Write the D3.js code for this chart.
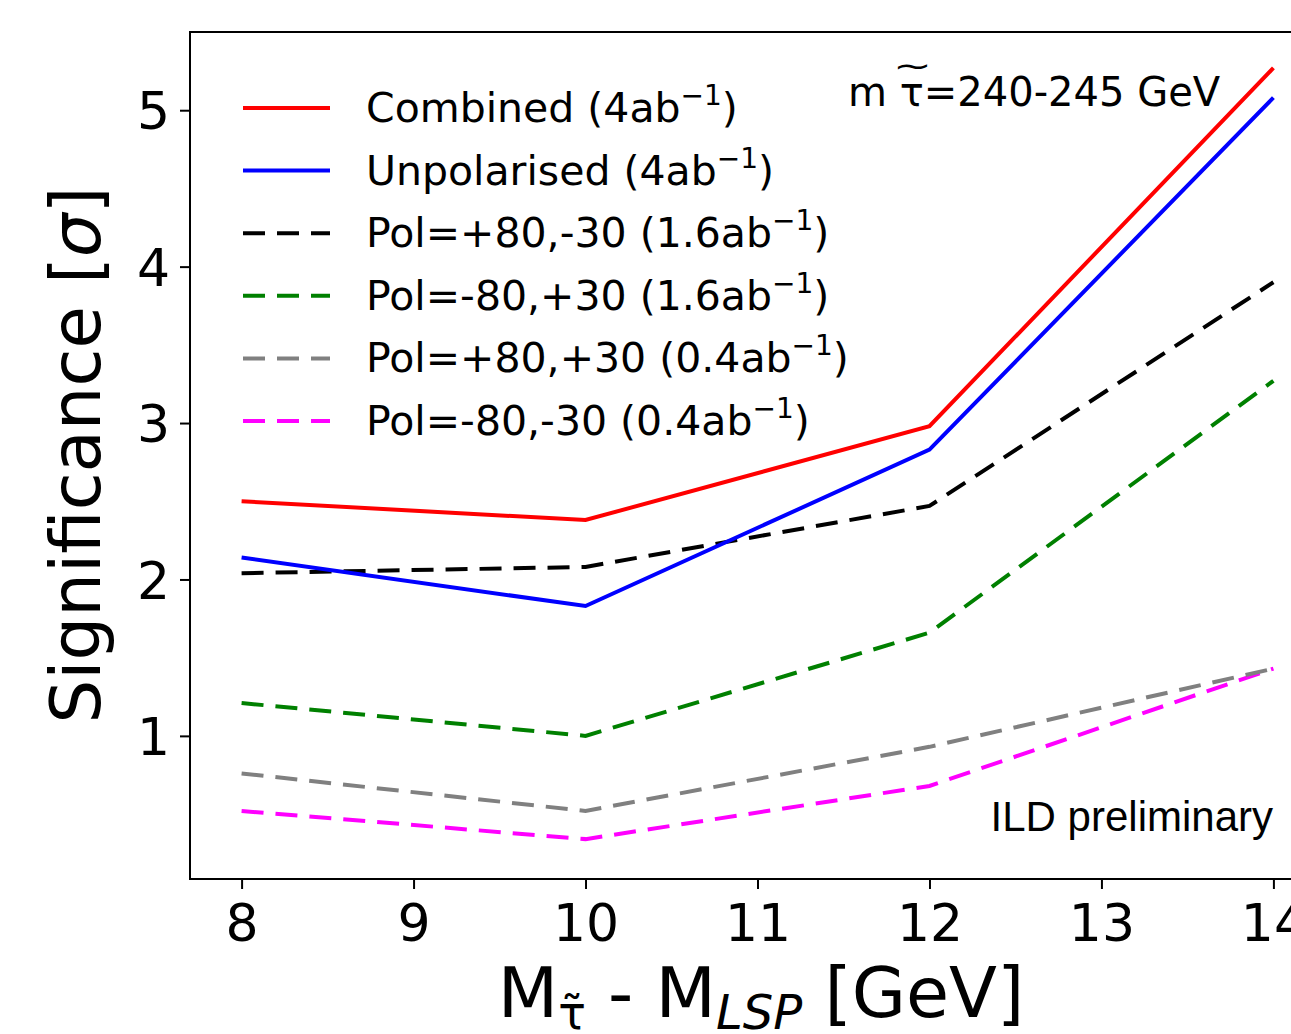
<!DOCTYPE html>
<html>
<head>
<meta charset="utf-8">
<script src="https://cdn.jsdelivr.net/npm/d3@7"></script>
<style>
  body { margin: 0; background: #fff; }
  text { font-family: "DejaVu Sans", sans-serif; fill: #000; }
</style>
</head>
<body>
<script>
const xValues = [8, 10, 12, 14];
const combined = [2.50, 2.38, 2.98, 5.27];
const unpolarised = [2.14, 1.83, 2.83, 5.08];
const polPlusMinus = [2.04, 2.08, 2.47, 3.90];
const polMinusPlus = [1.21, 1.00, 1.66, 3.27];
const polPlusPlus = [0.76, 0.52, 0.93, 1.43];
const polMinusMinus = [0.52, 0.34, 0.68, 1.43];
const xTicks = [8, 9, 10, 11, 12, 13, 14];
const yTicks = [1, 2, 3, 4, 5];

const series = [
    { name: "Combined (4ab", values: combined, color: "#ff0000", dashed: false },
    { name: "Unpolarised (4ab", values: unpolarised, color: "#0000ff", dashed: false },
    { name: "Pol=+80,-30 (1.6ab", values: polPlusMinus, color: "#000000", dashed: true },
    { name: "Pol=-80,+30 (1.6ab", values: polMinusPlus, color: "#008000", dashed: true },
    { name: "Pol=+80,+30 (0.4ab", values: polPlusPlus, color: "#808080", dashed: true },
    { name: "Pol=-80,-30 (0.4ab", values: polMinusMinus, color: "#ff00ff", dashed: true },
];

const width = 1291, height = 1034;
const margin = { top: 32, right: -34, bottom: 155, left: 190 };
const innerW = width - margin.left - margin.right;
const innerH = height - margin.top - margin.bottom;

const svg = d3.select("body").append("svg")
    .attr("width", width)
    .attr("height", height);

const x = d3.scaleLinear().domain([7.7, 14.3]).range([margin.left, width - margin.right]);
const y = d3.scaleLinear().domain([0.085, 5.5]).range([height - margin.bottom, margin.top]);

// clip for plot region
svg.append("clipPath").attr("id", "clip")
    .append("rect")
    .attr("x", margin.left).attr("y", margin.top)
    .attr("width", innerW).attr("height", innerH);

const line = d3.line()
    .x((d, i) => x(xValues[i]))
    .y(d => y(d));

svg.append("g").attr("clip-path", "url(#clip)")
    .selectAll("path")
    .data(series.slice().reverse())
    .enter()
    .append("path")
    .attr("d", d => line(d.values))
    .attr("fill", "none")
    .attr("stroke", d => d.color)
    .attr("stroke-width", 4)
    .attr("stroke-dasharray", d => d.dashed ? "22,12" : null);

// frame
svg.append("rect")
    .attr("x", margin.left).attr("y", margin.top)
    .attr("width", innerW).attr("height", innerH)
    .attr("fill", "none").attr("stroke", "#000").attr("stroke-width", 2);

// axes
const xAxis = svg.append("g")
    .attr("transform", `translate(0,${height - margin.bottom})`)
    .call(d3.axisBottom(x).tickValues(xTicks).tickSize(10).tickPadding(15).tickFormat(d3.format("d")));
const yAxis = svg.append("g")
    .attr("transform", `translate(${margin.left},0)`)
    .call(d3.axisLeft(y).tickValues(yTicks).tickSize(10).tickPadding(10).tickFormat(d3.format("d")));

[xAxis, yAxis].forEach(a => {
    a.select(".domain").remove();
    a.selectAll(".tick line").attr("stroke", "#000").attr("stroke-width", 2);
    a.selectAll(".tick text")
        .attr("font-family", "DejaVu Sans")
        .attr("font-size", "52px")
        .attr("fill", "#000");
});
yAxis.selectAll(".tick text").attr("dy", "0.36em");

// axis labels
const xl = svg.append("text")
    .attr("x", 761).attr("y", 1017)
    .attr("text-anchor", "middle")
    .attr("font-size", "70px");
xl.append("tspan").text("M");
xl.append("tspan").attr("font-size", "46px").attr("dy", "12").text("τ̃");
xl.append("tspan").attr("dy", "-12").text(" - M");
xl.append("tspan").attr("font-size", "48px").attr("font-style", "italic").attr("dy", "12").text("LSP");
xl.append("tspan").attr("dy", "-12").text(" [GeV]");

const yl = svg.append("text")
    .attr("transform", "translate(100,455) rotate(-90)")
    .attr("text-anchor", "middle")
    .attr("font-size", "69px");
yl.append("tspan").text("Significance [");
yl.append("tspan").attr("font-style", "italic").text("σ");
yl.append("tspan").text("]");

// legend
const legend = svg.append("g");
const rows = legend.selectAll("g")
    .data(series)
    .enter()
    .append("g")
    .attr("transform", (d, i) => `translate(0,${108 + i * 62.6})`);

rows.append("line")
    .attr("x1", 243).attr("x2", 330)
    .attr("y1", 0).attr("y2", 0)
    .attr("stroke", d => d.color)
    .attr("stroke-width", 4)
    .attr("stroke-dasharray", d => d.dashed ? "22,12" : null);

const lt = rows.append("text")
    .attr("x", 366).attr("y", 14)
    .attr("font-size", "41px")
    .attr("fill", "#222");
lt.append("tspan").text(d => d.name);
lt.append("tspan").attr("font-size", "28px").attr("dy", "-17").text("−1");
lt.append("tspan").attr("dy", "17").text(")");

// annotations: m with wide tilde over tau
const ann = svg.append("text")
    .attr("x", 848).attr("y", 106)
    .attr("font-size", "40px")
    .attr("fill", "#222");
ann.append("tspan").text("m ");
ann.append("tspan").text("τ");
ann.append("tspan").text("=240-245 GeV");
svg.append("text")
    .attr("x", 0).attr("y", 0)
    .attr("font-size", "30px")
    .attr("fill", "#222")
    .attr("transform", "translate(893,76) scale(1.55,1)")
    .text("~");

svg.append("text")
    .attr("x", 1273).attr("y", 831)
    .attr("text-anchor", "end")
    .style("font-family", "Liberation Sans, Arial, sans-serif")
    .attr("font-size", "42px")
    .text("ILD preliminary");
</script>
</body>
</html>
